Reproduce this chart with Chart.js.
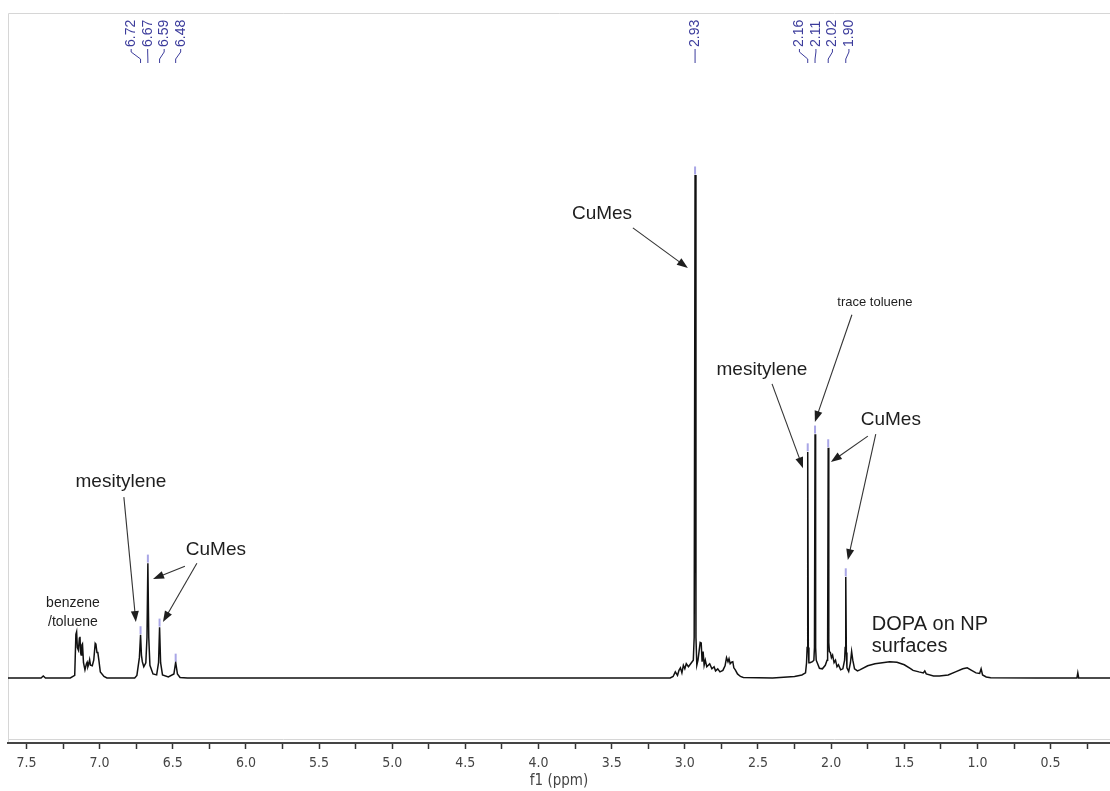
<!DOCTYPE html>
<html lang="en">
<head>
<meta charset="UTF-8">
<title>1H NMR - CuMes</title>
<script src="https://cdn.jsdelivr.net/npm/chart.js"></script>
<style>
  html, body { margin: 0; padding: 0; background: #fff; }
  #wrap { width: 1110px; height: 791px; }
</style>
</head>
<body>
<div id="wrap"><canvas id="nmr" width="1110" height="791"></canvas></div>
<script>
// spectrum (ppm, relative intensity)
const shiftPpm = [
  7.626, 7.40, 7.385, 7.37, 7.20, 7.17, 7.162, 7.157, 7.152, 7.145, 7.138, 7.134, 7.130, 7.126,
  7.121, 7.117, 7.110, 7.100, 7.090, 7.085, 7.080, 7.075, 7.068, 7.062, 7.050, 7.040, 7.030,
  7.025, 7.018, 7.012, 7.005, 6.995, 6.97, 6.95,
  6.76, 6.745, 6.728, 6.72, 6.714, 6.708, 6.698, 6.684, 6.676, 6.67, 6.664, 6.656, 6.635, 6.61,
  6.597, 6.59, 6.583, 6.57, 6.53, 6.492, 6.48, 6.468, 6.45, 6.40,
  3.10, 3.08, 3.065, 3.05, 3.04, 3.03, 3.02, 3.01, 3.00, 2.99, 2.975, 2.955, 2.942, 2.936, 2.93,
  2.924, 2.918, 2.91, 2.895, 2.888, 2.882, 2.875, 2.868, 2.86, 2.85, 2.83, 2.815, 2.80, 2.79,
  2.775, 2.76, 2.74, 2.725, 2.715, 2.705, 2.698, 2.69, 2.68, 2.672, 2.665, 2.655, 2.64, 2.62, 2.60,
  2.40, 2.25, 2.20, 2.175, 2.168, 2.164, 2.16, 2.156, 2.152, 2.145, 2.128, 2.118, 2.114, 2.11,
  2.106, 2.102, 2.095, 2.08, 2.06, 2.04, 2.028, 2.024, 2.02, 2.016, 2.012, 2.005, 1.998, 1.99,
  1.98, 1.97, 1.96, 1.95, 1.935, 1.92, 1.908, 1.904, 1.90, 1.896, 1.892, 1.88, 1.868, 1.86,
  1.852, 1.84, 1.82, 1.804, 1.75, 1.70, 1.65, 1.60, 1.55, 1.50, 1.46, 1.44, 1.40, 1.37, 1.36,
  1.35, 1.30, 1.26, 1.20, 1.15, 1.10, 1.07, 1.04, 1.01, 0.985, 0.975, 0.965, 0.94, 0.91, 0.60,
  0.32, 0.314, 0.308, 0.094
];
const intensity = [
  0, 0, 0.4, 0, 0, 0.5, 8.6, 9.1, 6, 5.5, 7.8, 8.1, 5, 4.5,
  6.5, 6.7, 3, 1.6, 2.8, 3.1, 2.2, 2.6, 3.6, 2.5, 2.4, 3.5, 6.8,
  6.6, 5.0, 5.0, 3.5, 1.2, 0.3, 0,
  0, 0.5, 4, 8.5, 4.5, 3.2, 2.2, 3, 8, 22.6, 8, 2.5, 0.8, 0.6,
  3, 10, 3, 0.6, 0.2, 0.8, 3.1, 0.8, 0.1, 0,
  0, 0.3, 1.2, 0.5, 1.5, 2.0, 1.0, 2.5, 1.8, 2.8, 2.2, 3.0, 3.5, 8, 99,
  8, 2.5, 3.5, 7, 6.9, 3.2, 5.2, 2.5, 3.5, 2.2, 2.8, 1.8, 2.2, 1.4,
  1.8, 1.2, 1.5, 2.4, 4.0, 3.2, 3.8, 2.8, 3.1, 3.2, 2.0, 1.6, 0.8, 0.3, 0.1,
  0, 0.3, 0.6, 1.0, 3, 6, 44.5, 6, 3, 3, 3.2, 3.5, 6, 48,
  6, 3.5, 3, 1.9, 1.8, 2.5, 3.5, 6, 45.3, 7, 5.2, 5.0, 4.0, 4.5,
  3.0, 3.5, 2.2, 2.6, 1.6, 1.8, 3.5, 6, 19.9, 5, 2, 1.3, 3.0, 5.2,
  3.5, 1.8, 1.4, 1.6, 2.4, 2.8, 3.0, 3.2, 3.1, 2.6, 1.9, 1.5, 1.2, 1.0, 1.4,
  0.8, 0.4, 0.4, 0.6, 1.2, 1.8, 2.0, 1.5, 1.0, 0.9, 1.8, 0.6, 0.2, 0.05, 0,
  0, 1.0, 0, 0
];

// picked peaks
const peakPpm = [6.72, 6.67, 6.59, 6.48, 2.93, 2.16, 2.11, 2.02, 1.90];
const peakHeight = [8.5, 22.6, 10, 3.1, 99, 44.5, 48, 45.3, 19.9];
const peakLabels = ['6.72', '6.67', '6.59', '6.48', '2.93', '2.16', '2.11', '2.02', '1.90'];
const peakGroups = [[0, 1, 2, 3], [4], [5, 6, 7, 8]];

const xMin = 0.094, xMax = 7.626;
const yMin = -12.8, yMax = 130.7;

// text notes with arrows, in (ppm, intensity)
const notes = [
  { lines: ['CuMes'], at: [3.566, 91.4], size: 19, arrows: [[[3.355, 88.6], [2.979, 80.7]]] },
  { lines: ['mesitylene'], at: [6.854, 38.6], size: 19, arrows: [[[6.834, 35.6], [6.752, 11.0]]] },
  { lines: ['CuMes'], at: [6.205, 25.2], size: 19,
    arrows: [[[6.417, 22.0], [6.635, 19.5]], [[6.335, 22.6], [6.567, 11.0]]] },
  { lines: ['benzene', '/toluene'], at: [7.182, 14.8], size: 14, gap: 19, arrows: [] },
  { lines: ['mesitylene'], at: [2.473, 60.7], size: 19, arrows: [[[2.404, 57.9], [2.192, 41.3]]] },
  { lines: ['trace toluene'], at: [1.701, 74.0], size: 13, arrows: [[[1.858, 71.5], [2.111, 50.4]]] },
  { lines: ['CuMes'], at: [1.592, 50.8], size: 19,
    arrows: [[[1.749, 47.6], [2.002, 42.5]], [[1.695, 48.0], [1.886, 23.2]]] },
  { lines: ['DOPA on NP', 'surfaces'], at: [1.722, 10.6], size: 20, gap: 22, align: 'left', arrows: [] }
];

const frame = {
  id: 'frame',
  beforeDraw(chart) {
    const { ctx, chartArea: a } = chart;
    ctx.save();
    ctx.strokeStyle = '#d6d6d6';
    ctx.lineWidth = 1;
    ctx.beginPath();
    ctx.moveTo(a.left + 0.5, a.bottom);
    ctx.lineTo(a.left + 0.5, a.top - 0.5);
    ctx.lineTo(a.right, a.top - 0.5);
    ctx.moveTo(a.left, a.bottom - 3.5);
    ctx.lineTo(a.right, a.bottom - 3.5);
    ctx.stroke();
    ctx.restore();
  }
};

const peakTags = {
  id: 'peakTags',
  afterDatasetsDraw(chart) {
    const { ctx, chartArea: a, scales: { x } } = chart;
    ctx.save();
    ctx.fillStyle = '#3c3c9c';
    ctx.strokeStyle = '#3c3c9c';
    ctx.lineWidth = 1;
    ctx.font = '14px "Liberation Sans", Arial, sans-serif';
    peakGroups.forEach(g => {
      const px = g.map(i => x.getPixelForValue(peakPpm[i]));
      const mid = px.reduce((s, v) => s + v, 0) / px.length;
      g.forEach((i, k) => {
        const lx = mid + (k - (g.length - 1) / 2) * 16.5;
        ctx.beginPath();
        ctx.moveTo(lx, a.top + 35);
        ctx.lineTo(lx, a.top + 38);
        ctx.lineTo(px[k], a.top + 45);
        ctx.lineTo(px[k], a.top + 49);
        ctx.stroke();
        ctx.save();
        ctx.translate(lx, a.top + 33);
        ctx.rotate(-Math.PI / 2);
        ctx.textAlign = 'left';
        ctx.textBaseline = 'middle';
        ctx.fillText(peakLabels[i], 0, 0);
        ctx.restore();
      });
    });
    ctx.restore();
  }
};

function arrow(ctx, x0, y0, x1, y1) {
  const ang = Math.atan2(y1 - y0, x1 - x0);
  const len = 11, half = 4;
  ctx.beginPath();
  ctx.moveTo(x0, y0);
  ctx.lineTo(x1 - Math.cos(ang) * len * 0.8, y1 - Math.sin(ang) * len * 0.8);
  ctx.stroke();
  ctx.beginPath();
  ctx.moveTo(x1, y1);
  ctx.lineTo(x1 - Math.cos(ang) * len + Math.sin(ang) * half, y1 - Math.sin(ang) * len - Math.cos(ang) * half);
  ctx.lineTo(x1 - Math.cos(ang) * len - Math.sin(ang) * half, y1 - Math.sin(ang) * len + Math.cos(ang) * half);
  ctx.closePath();
  ctx.fill();
}

const noteLayer = {
  id: 'noteLayer',
  afterDatasetsDraw(chart) {
    const { ctx, scales: { x, y } } = chart;
    ctx.save();
    ctx.fillStyle = '#1e1e1e';
    ctx.strokeStyle = '#333';
    ctx.lineWidth = 1.1;
    notes.forEach(n => {
      const cx = x.getPixelForValue(n.at[0]);
      const cy = y.getPixelForValue(n.at[1]);
      ctx.font = n.size + 'px "Liberation Sans", Arial, sans-serif';
      ctx.textAlign = n.align || 'center';
      ctx.textBaseline = 'middle';
      n.lines.forEach((t, k) => ctx.fillText(t, cx, cy + k * (n.gap || 0)));
      n.arrows.forEach(([s, e]) => {
        arrow(ctx, x.getPixelForValue(s[0]), y.getPixelForValue(s[1]),
                   x.getPixelForValue(e[0]), y.getPixelForValue(e[1]));
      });
    });
    ctx.restore();
  }
};

new Chart(document.getElementById('nmr'), {
  type: 'line',
  data: {
    datasets: [
      {
        type: 'scatter',
        data: peakPpm.map((p, i) => ({ x: p, y: peakHeight[i] + 0.9 })),
        pointStyle: 'line',
        rotation: 90,
        pointRadius: 4,
        borderColor: '#a9a6e6',
        borderWidth: 2
      },
      {
        data: shiftPpm.map((p, i) => ({ x: p, y: intensity[i] })),
        borderColor: '#111',
        borderWidth: 1.5,
        pointRadius: 0,
        tension: 0,
        fill: false
      }
    ]
  },
  options: {
    responsive: false,
    animation: false,
    devicePixelRatio: 1,
    layout: { autoPadding: false, padding: { left: 8, top: 14, right: 0, bottom: 0 } },
    plugins: { legend: { display: false }, tooltip: { enabled: false } },
    scales: {
      x: {
        type: 'linear',
        reverse: true,
        min: xMin,
        max: xMax,
        border: { color: '#444', width: 2 },
        grid: { drawOnChartArea: false, drawTicks: true, tickLength: 6, tickColor: '#333', tickWidth: 1.5 },
        ticks: {
          stepSize: 0.25,
          includeBounds: false,
          autoSkip: false,
          maxRotation: 0,
          padding: 6,
          color: '#444',
          font: { family: '"DejaVu Sans Condensed", "DejaVu Sans", sans-serif', size: 14 },
          callback: v => Math.abs(v * 2 - Math.round(v * 2)) < 1e-6 ? v.toFixed(1) : ''
        },
        title: {
          display: true,
          text: 'f1 (ppm)',
          color: '#444',
          font: { family: '"DejaVu Sans Condensed", "DejaVu Sans", sans-serif', size: 15 },
          padding: { top: 0, bottom: 1 }
        },
        afterFit: s => {
          s.height = 48;
          s.paddingLeft = 0;
          s.paddingRight = 0;
        }
      },
      y: { display: false, min: yMin, max: yMax }
    }
  },
  plugins: [frame, peakTags, noteLayer]
});
</script>
</body>
</html>
